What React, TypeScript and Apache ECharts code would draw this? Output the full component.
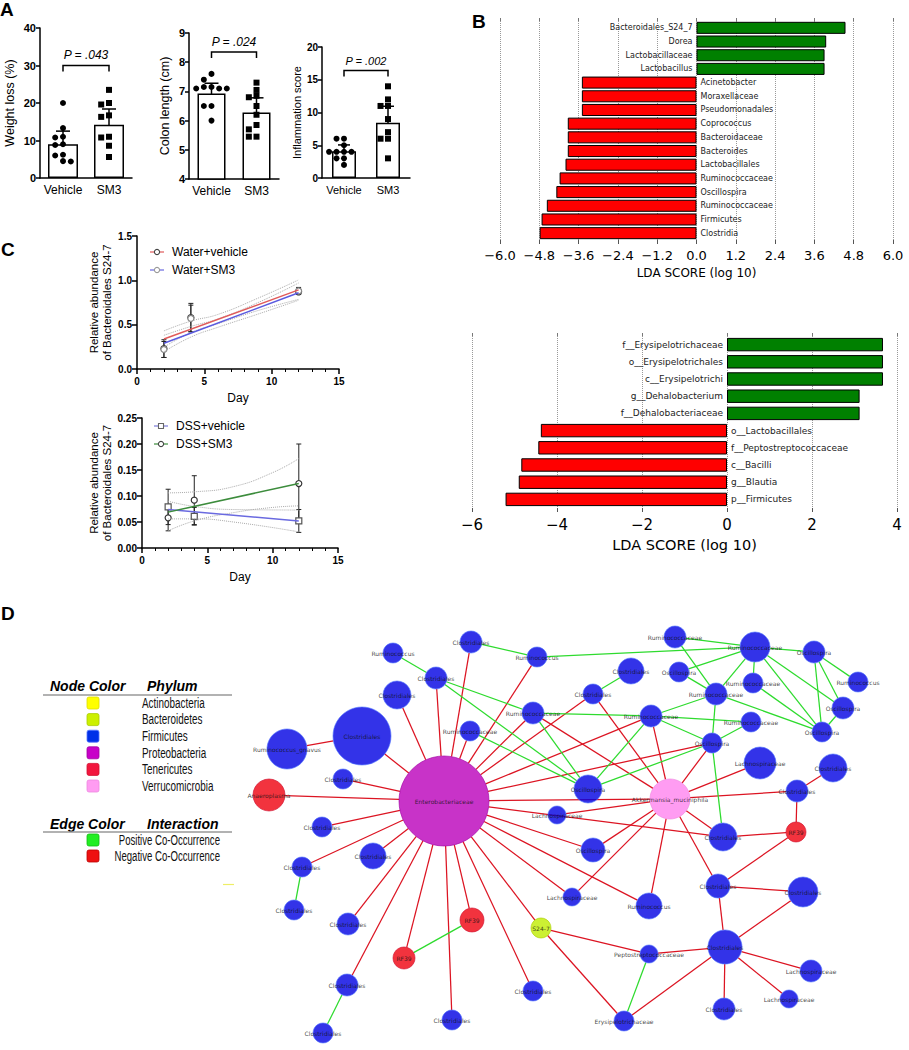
import React, { useEffect, useRef } from "react";
import * as echarts from "echarts";

const FONT = "'Liberation Sans', Arial, Helvetica, sans-serif";
const MPL = "'DejaVu Sans', sans-serif";

// ---------------- Panel A data ----------------
const groups = ["Vehicle", "SM3"];
const yTitlesA = ["Weight loss (%)", "Colon length (cm)", "Inflammation score"];
const weightLossVehicle = [20, 13.3, 11, 10.8, 9, 8.8, 6.2, 6, 4.5, 4.4];
const weightLossSM3 = [23.5, 20, 19.6, 16.7, 16.3, 11, 10.8, 8.6, 5.6];
const weightLossMean = [9, 14.2];
const weightLossSD = [3.5, 4.2];
const colonVehicle = [7.6, 7.4, 7.15, 7.15, 7.1, 7.1, 7.1, 6.5, 6.5, 6.0];
const colonSM3 = [7.3, 7.05, 6.85, 6.8, 6.5, 6.2, 5.85, 5.7, 5.45, 5.45];
const colonMean = [6.93, 6.28];
const colonSD = [0.35, 0.5];
const inflVehicle = [6, 6, 5, 4, 4, 4, 4, 3, 3, 2];
const inflSM3 = [14, 12, 11, 11, 9, 7, 6, 6, 3];
const inflMean = [4.1, 8.45];
const inflSD = [0.95, 2.5];
const pLabels = ["P = .043", "P = .024", "P = .002"];
const bracketLevels = [30, 8.35, 16.4];

// ---------------- Panel B data ----------------
const ldaTopNames = ["Bacteroidales_S24_7", "Dorea", "Lactobacillaceae", "Lactobacillus", "Acinetobacter", "Moraxellaceae", "Pseudomonadales", "Coprococcus", "Bacteroidaceae", "Bacteroides", "Lactobacillales", "Ruminococcaceae", "Oscillospira", "Ruminococcaceae", "Firmicutes", "Clostridia"];
const ldaTopScores = [4.55, 3.96, 3.91, 3.91, -3.5, -3.5, -3.5, -3.93, -3.93, -3.93, -4.0, -4.18, -4.28, -4.57, -4.73, -4.79];
const ldaBottomNames = ["f__Erysipelotrichaceae", "o__Erysipelotrichales", "c__Erysipelotrichi", "g__Dehalobacterium", "f__Dehalobacteriaceae", "o__Lactobacillales", "f__Peptostreptococcaceae", "c__Bacilli", "g__Blautia", "p__Firmicutes"];
const ldaBottomScores = [3.67, 3.67, 3.67, 3.12, 3.12, -4.38, -4.44, -4.84, -4.9, -5.21];
const ldaAxisTitle = "LDA SCORE (log 10)";

// ---------------- Panel C data ----------------
const cDays = [2, 4, 12];
const cYTitle = "Relative abundance\nof Bacteroidales S24-7";
const waterVehicleMean = [0.23, 0.58, 0.87];
const waterVehicleSD = [0.1, 0.16, 0.03];
const waterSM3Mean = [0.22, 0.57, 0.88];
const waterSM3SD = [0.09, 0.15, 0.04];
const waterVehicleFit = [[2, 0.338], [12, 0.892]];
const waterSM3Fit = [[2, 0.29], [12, 0.86]];
const waterVehicleBandUpper = [[2, 0.43], [4, 0.54], [6, 0.615], [9, 0.8], [12, 1.005]];
const waterVehicleBandLower = [[2, 0.245], [4, 0.41], [6, 0.51], [9, 0.66], [12, 0.785]];
const waterSM3BandUpper = [[2, 0.38], [4, 0.48], [6, 0.565], [9, 0.75], [12, 0.97]];
const waterSM3BandLower = [[2, 0.195], [4, 0.36], [6, 0.47], [9, 0.62], [12, 0.775]];
const dssVehicleMean = [0.079, 0.061, 0.052];
const dssVehicleSD = [0.034, 0.017, 0.022];
const dssSM3Mean = [0.058, 0.092, 0.124];
const dssSM3SD = [0.025, 0.047, 0.076];
const dssVehicleFit = [[2, 0.074], [12, 0.052]];
const dssSM3Fit = [[2, 0.069], [12, 0.124]];
const dssVehicleBandUpper = [[2, 0.09], [4, 0.08], [7, 0.074], [12, 0.073]];
const dssVehicleBandLower = [[2, 0.056], [4, 0.056], [7, 0.05], [12, 0.031]];
const dssSM3BandUpper = [[2, 0.106], [4, 0.108], [7, 0.118], [10, 0.145], [12, 0.172]];
const dssSM3BandLower = [[2, 0.033], [4, 0.052], [7, 0.068], [10, 0.078], [12, 0.081]];
const cLegendTop = ["Water+vehicle", "Water+SM3"];
const cLegendBottom = ["DSS+vehicle", "DSS+SM3"];

// ---------------- Panel D data ----------------
const phylumNames = ["Actinobacteria", "Bacteroidetes", "Firmicutes", "Proteobacteria", "Tenericutes", "Verrucomicrobia"];
const edgeTypeNames = ["Positive Co-Occurrence", "Negative Co-Occurrence"];
const nodeNames = ["Enterobacteriaceae", "Akkermansia_muciniphila", "Ruminococcus", "Clostridiales", "Ruminococcus", "Clostridiales", "Clostridiales", "Clostridiales", "Ruminococcus_gnavus", "Ruminococcaceae", "Ruminococcaceae", "Clostridiales", "Anaeroplasma", "Clostridiales", "Clostridiales", "Clostridiales", "Clostridiales", "Clostridiales", "RF39", "RF39", "S24-7", "Lachnospiraceae", "Clostridiales", "Clostridiales", "Clostridiales", "Clostridiales", "Clostridiales", "RF39", "Oscillospira", "Ruminococcus", "Clostridiales", "Clostridiales", "Clostridiales", "Peptostreptococcaceae", "Lachnospiraceae", "Lachnospiraceae", "Clostridiales", "Erysipelotrichaceae", "Ruminococcaceae", "Ruminococcaceae", "Oscillospira", "Clostridiales", "Oscillospira", "Ruminococcus", "Ruminococcaceae", "Clostridiales", "Ruminococcaceae", "Oscillospira", "Ruminococcaceae", "Ruminococcaceae", "Oscillospira", "Oscillospira", "Lachnospiraceae", "Clostridiales", "Oscillospira", "Clostridiales", "Lachnospiraceae"];
const nodePhyla = [3, 5, 2, 2, 2, 2, 2, 2, 2, 2, 2, 2, 4, 2, 2, 2, 2, 2, 4, 4, 1, 2, 2, 2, 2, 2, 2, 4, 2, 2, 2, 2, 2, 2, 2, 2, 2, 2, 2, 2, 2, 2, 2, 2, 2, 2, 2, 2, 2, 2, 2, 2, 2, 2, 2, 2, 2];
const nodeWeight = [45, 20, 10, 11, 10, 11, 14, 29, 20, 11, 10, 10, 16, 10, 13, 10, 10, 11, 12, 11, 10, 9, 11, 10, 10, 10, 14, 10, 12, 13, 12, 15, 17, 9, 11, 9, 11, 10, 11, 15, 11, 13, 10, 10, 10, 10, 11, 11, 11, 10, 10, 10, 16, 14, 14, 11, 9];
const positiveEdges = [[2, 5], [3, 4], [4, 39], [5, 9], [5, 54], [10, 54], [9, 54], [9, 48], [48, 49], [48, 54], [48, 46], [48, 51], [51, 54], [51, 49], [51, 46], [51, 26], [45, 41], [46, 38], [46, 42], [46, 39], [46, 50], [42, 39], [38, 39], [39, 40], [39, 44], [39, 50], [39, 47], [44, 50], [40, 43], [40, 47], [40, 50], [47, 50], [15, 16], [22, 23], [18, 19], [33, 37]];
const negativeEdges = [[0, 3], [0, 4], [0, 5], [0, 6], [0, 7], [0, 9], [0, 10], [0, 11], [0, 12], [0, 13], [0, 14], [0, 15], [0, 17], [0, 18], [0, 19], [0, 20], [0, 21], [0, 22], [0, 24], [0, 25], [0, 26], [0, 28], [0, 29], [0, 45], [0, 48], [0, 51], [0, 1], [1, 45], [1, 9], [1, 48], [1, 51], [1, 52], [1, 55], [1, 56], [1, 28], [1, 21], [1, 29], [1, 26], [1, 30], [7, 8], [26, 27], [27, 55], [27, 30], [30, 31], [30, 32], [31, 32], [32, 33], [32, 34], [32, 35], [32, 36], [32, 37], [20, 33], [20, 37], [55, 53]];

// Network layout (drawing coordinates of the layout, not data values)
const layoutX = [444, 670, 393, 471, 537, 436, 397, 362, 287, 533, 470, 343, 269, 322, 373, 302, 294, 348, 472, 404, 541, 572, 347, 323, 452, 533, 723, 796, 593, 649, 718, 803, 725, 649, 811, 789, 724, 624, 675, 755, 814, 631, 679, 858, 753, 593, 716, 843, 651, 751, 822, 712, 760, 833, 588, 797, 557];
const layoutY = [801, 799, 653, 642, 657, 678, 695, 736, 749, 713, 731, 779, 795, 827, 856, 867, 910, 924, 920, 958, 928, 897, 985, 1033, 1020, 991, 837, 832, 850, 906, 886, 892, 947, 954, 971, 999, 1009, 1021, 637, 647, 652, 671, 672, 682, 683, 694, 694, 708, 716, 722, 732, 743, 763, 768, 789, 791, 815];

// ---------------- styles ----------------
const phylumColors = ["#ffff00", "#ccf000", "#0030e8", "#c800c8", "#f2163e", "#ff9cf2"];
const phylumBorders = ["#dddd00", "#aacc00", "#5577ff", "#a000a0", "#d01030", "#ee88e0"];
const edgeColors = ["#2edb2e", "#dc1422"];
const TOP_H = 590;
const NODE_ALPHA = 0.8;

// colour that, drawn at NODE_ALPHA over white, looks as close as possible to the target
function compensate(hex: string): string {
  const n = parseInt(hex.slice(1), 16);
  const ch = [(n >> 16) & 255, (n >> 8) & 255, n & 255].map((c) => {
    const v = Math.round((c - 255 * (1 - NODE_ALPHA)) / NODE_ALPHA);
    return Math.max(0, Math.min(255, v));
  });
  return "#" + ch.map((c) => c.toString(16).padStart(2, "0")).join("");
}

const aLayout = [
  { left: 40, top: 28, width: 92, height: 150, min: 0, max: 40, interval: 10, nameGap: 24, nameFs: 12.5, tickFs: 11, catFs: 12, barW: 30, cap: 7, pFs: 12, pGap: 5 },
  { left: 189, top: 33, width: 90, height: 146, min: 4, max: 9, interval: 1, nameGap: 18, nameFs: 12.5, tickFs: 11, catFs: 12, barW: 28, cap: 7, pFs: 12, pGap: 4 },
  { left: 322, top: 47, width: 88, height: 131, min: 0, max: 20, interval: 5, nameGap: 18, nameFs: 11, tickFs: 10, catFs: 11, barW: 24, cap: 6, pFs: 11, pGap: 4 },
];

function swarm(vals: number[], thr: number, d: number): number[] {
  const xs: number[] = [];
  vals.forEach((v, i) => {
    const cand = [0, -d, d, -2 * d, 2 * d, -3 * d, 3 * d];
    for (const c of cand) {
      if (!xs.some((x, j) => Math.abs(x - c) < 1e-9 && Math.abs(vals[j] - v) < thr)) {
        xs.push(c);
        return;
      }
    }
    xs.push(0);
  });
  return xs;
}

function errorBarRender(cap: number, width: number, color: string) {
  return (_p: any, api: any) => {
    const x = api.value(0), m = api.value(1), s = api.value(2);
    const hi = api.coord([x, m + s]);
    const lo = api.coord([x, m - s]);
    const style = { stroke: color, lineWidth: width, fill: "none" };
    return {
      type: "group",
      children: [
        { type: "line", shape: { x1: hi[0], y1: hi[1], x2: lo[0], y2: lo[1] }, style },
        { type: "line", shape: { x1: hi[0] - cap, y1: hi[1], x2: hi[0] + cap, y2: hi[1] }, style },
        { type: "line", shape: { x1: lo[0] - cap, y1: lo[1], x2: lo[0] + cap, y2: lo[1] }, style },
      ],
    };
  };
}

function bracketRender(text: string, fs: number, gap: number) {
  return (_p: any, api: any) => {
    const a = api.coord([api.value(0), api.value(2)]);
    const b = api.coord([api.value(1), api.value(2)]);
    const drop = 6;
    return {
      type: "group",
      children: [
        { type: "polyline", shape: { points: [[a[0], a[1] + drop], a, b, [b[0], b[1] + drop]] }, style: { stroke: "#000", lineWidth: 1.5, fill: "none" } },
        { type: "text", x: (a[0] + b[0]) / 2, y: a[1] - gap, style: { text, fontSize: fs, fontStyle: "italic", fontFamily: FONT, fill: "#000", align: "center", verticalAlign: "bottom" } },
      ],
    };
  };
}

// edge drawn from rim to rim of its two nodes
function edgeRender(color: string) {
  return (_p: any, api: any) => {
    const a = api.coord([api.value(0), api.value(1)]);
    const b = api.coord([api.value(2), api.value(3)]);
    const ra = api.value(4), rb = api.value(5);
    const dx = b[0] - a[0], dy = b[1] - a[1];
    const len = Math.sqrt(dx * dx + dy * dy) || 1;
    const ux = dx / len, uy = dy / len;
    return {
      type: "line",
      shape: { x1: a[0] + ux * ra, y1: a[1] + uy * ra, x2: b[0] - ux * rb, y2: b[1] - uy * rb },
      style: { stroke: color, lineWidth: 1.25 },
    };
  };
}

const fmtMinus = (v: number, d: number) => {
  const s = (Math.abs(v) < 1e-9 ? 0 : v).toFixed(d);
  return s.replace("-", "\u2212");
};

function buildTopOption() {
  const grid: any[] = [];
  const xAxis: any[] = [];
  const yAxis: any[] = [];
  const series: any[] = [];
  const elements: any[] = [];
  const blackLine = { color: "#000", width: 1.5 };

  // ---------- Panel A ----------
  const aSets = [
    { veh: weightLossVehicle, sm3: weightLossSM3, mean: weightLossMean, sd: weightLossSD },
    { veh: colonVehicle, sm3: colonSM3, mean: colonMean, sd: colonSD },
    { veh: inflVehicle, sm3: inflSM3, mean: inflMean, sd: inflSD },
  ];
  aSets.forEach((set, k) => {
    const L = aLayout[k];
    const gi = grid.length;
    grid.push({ left: L.left, top: L.top, width: L.width, height: L.height, outerBoundsMode: "none" });
    const xCat = xAxis.length;
    xAxis.push({
      type: "category", gridIndex: gi, data: groups,
      axisLine: { onZero: false, lineStyle: blackLine },
      axisTick: { alignWithLabel: true, length: 4, lineStyle: blackLine },
      axisLabel: { color: "#000", fontSize: L.catFs, fontFamily: FONT, margin: 6, interval: 0 },
    });
    const xVal = xAxis.length;
    xAxis.push({ type: "value", gridIndex: gi, min: -0.5, max: 1.5, show: false, axisLine: { onZero: false } });
    const yi = yAxis.length;
    yAxis.push({
      type: "value", gridIndex: gi, min: L.min, max: L.max, interval: L.interval,
      name: yTitlesA[k], nameLocation: "middle", nameGap: L.nameGap,
      nameTextStyle: { fontSize: L.nameFs, fontFamily: FONT, color: "#000" },
      axisLine: { show: true, onZero: false, lineStyle: blackLine },
      axisTick: { show: true, length: 4, lineStyle: blackLine },
      axisLabel: { color: "#000", fontSize: L.tickFs, fontWeight: "bold", fontFamily: FONT, margin: 4 },
      splitLine: { show: false },
    });
    series.push({ type: "bar", xAxisIndex: xCat, yAxisIndex: yi, data: set.mean, barWidth: L.barW, itemStyle: { color: "#fff", borderColor: "#000", borderWidth: 1.5 }, silent: true });
    series.push({ type: "custom", xAxisIndex: xVal, yAxisIndex: yi, renderItem: errorBarRender(L.cap, 1.5, "#000"), data: set.mean.map((m, i) => [i, m, set.sd[i]]), silent: true });
    const thr = (L.max - L.min) * 0.04;
    const o0 = swarm(set.veh, thr, 0.17);
    const o1 = swarm(set.sm3, thr, 0.17);
    series.push({ type: "scatter", xAxisIndex: xVal, yAxisIndex: yi, symbol: "circle", symbolSize: 6, itemStyle: { color: "#000", opacity: 1 }, data: set.veh.map((v, i) => [o0[i], v]), silent: true });
    series.push({ type: "scatter", xAxisIndex: xVal, yAxisIndex: yi, symbol: "rect", symbolSize: 6, itemStyle: { color: "#000", opacity: 1 }, data: set.sm3.map((v, i) => [1 + o1[i], v]), silent: true });
    series.push({ type: "custom", xAxisIndex: xVal, yAxisIndex: yi, renderItem: bracketRender(pLabels[k], L.pFs, L.pGap), data: [[0, 1, bracketLevels[k]]], silent: true });
  });

  // ---------- Panel B ----------
  const bSets = [
    { names: ldaTopNames, scores: ldaTopScores, left: 500, top: 21, width: 393, height: 219, min: -6, max: 6, interval: 1.2, dec: 1, tickFs: 13, nameFs: 12, nameGap: 27, labelFs: 8, gap: "12%", margin: 9 },
    { names: ldaBottomNames, scores: ldaBottomScores, left: 472, top: 336, width: 425, height: 172, min: -6, max: 4, interval: 2, dec: 0, tickFs: 15, nameFs: 14.5, nameGap: 29, labelFs: 9, gap: "22%", margin: 9 },
  ];
  bSets.forEach((B) => {
    const gi = grid.length;
    grid.push({ left: B.left, top: B.top, width: B.width, height: B.height, outerBoundsMode: "none" });
    const xb = xAxis.length;
    xAxis.push({
      type: "value", gridIndex: gi, min: B.min, max: B.max, interval: B.interval, position: "bottom",
      axisLine: { show: false, onZero: false },
      axisTick: { show: true, length: 4, lineStyle: { color: "#555", width: 1 } },
      axisLabel: { formatter: (v: number) => fmtMinus(v, B.dec), fontSize: B.tickFs, fontFamily: MPL, color: "#000", margin: B.margin },
      splitLine: { show: true, lineStyle: { type: "dotted", color: "#999", width: 1 } },
      name: ldaAxisTitle, nameLocation: "middle", nameGap: B.nameGap,
      nameTextStyle: { fontSize: B.nameFs, fontFamily: MPL, color: "#000" },
    });
    xAxis.push({
      type: "value", gridIndex: gi, min: B.min, max: B.max, interval: B.interval, position: "top",
      axisLine: { show: false, onZero: false },
      axisTick: { show: true, length: 3, lineStyle: { color: "#777", width: 1 } },
      axisLabel: { show: false }, splitLine: { show: false },
    });
    const yi = yAxis.length;
    yAxis.push({ type: "category", gridIndex: gi, inverse: true, data: B.names.map((_, i) => String(i)), show: false, axisLine: { onZero: false } });
    series.push({
      type: "bar", xAxisIndex: xb, yAxisIndex: yi, barCategoryGap: B.gap, silent: true,
      data: B.scores.map((s) => ({ value: s, itemStyle: { color: s > 0 ? "#008000" : "#ff0000" }, label: { position: s > 0 ? "left" : "right" } })),
      itemStyle: { borderColor: "#000", borderWidth: 1 },
      label: { show: true, formatter: (p: any) => B.names[p.dataIndex], fontSize: B.labelFs, fontFamily: MPL, color: "#222", distance: 4 },
    });
  });

  // ---------- Panel C ----------
  const cSets = [
    {
      left: 137, top: 236, width: 202, height: 133, max: 1.5, interval: 0.5, dec: 1, nameGap: 24,
      bands: [waterVehicleBandUpper, waterVehicleBandLower, waterSM3BandUpper, waterSM3BandLower],
      fits: [{ d: waterVehicleFit, c: "#e05a5a" }, { d: waterSM3Fit, c: "#5a5ae0" }],
      pts: [
        { m: waterVehicleMean, s: waterVehicleSD, sym: "circle", bc: "#333" },
        { m: waterSM3Mean, s: waterSM3SD, sym: "circle", bc: "#888" },
      ],
    },
    {
      left: 142, top: 418, width: 196, height: 130, max: 0.25, interval: 0.05, dec: 2, nameGap: 28,
      bands: [dssVehicleBandUpper, dssVehicleBandLower, dssSM3BandUpper, dssSM3BandLower],
      fits: [{ d: dssVehicleFit, c: "#6a6ae0" }, { d: dssSM3Fit, c: "#3c8c3c" }],
      pts: [
        { m: dssVehicleMean, s: dssVehicleSD, sym: "rect", bc: "#555" },
        { m: dssSM3Mean, s: dssSM3SD, sym: "circle", bc: "#333" },
      ],
    },
  ];
  cSets.forEach((C) => {
    const gi = grid.length;
    grid.push({ left: C.left, top: C.top, width: C.width, height: C.height, outerBoundsMode: "none" });
    const xi = xAxis.length;
    xAxis.push({
      type: "value", gridIndex: gi, min: 0, max: 15, interval: 5,
      axisLine: { onZero: false, lineStyle: blackLine },
      axisTick: { show: true, length: 5, lineStyle: blackLine },
      minorTick: { show: true, splitNumber: 5, length: 3, lineStyle: { color: "#000", width: 1 } },
      axisLabel: { fontWeight: "bold", fontSize: 10, color: "#000", margin: 7, fontFamily: FONT },
      splitLine: { show: false },
      name: "Day", nameLocation: "middle", nameGap: 23,
      nameTextStyle: { fontSize: 12, color: "#000", fontFamily: FONT },
    });
    const yi = yAxis.length;
    yAxis.push({
      type: "value", gridIndex: gi, min: 0, max: C.max, interval: C.interval,
      axisLine: { show: true, onZero: false, lineStyle: blackLine },
      axisTick: { show: true, length: 5, lineStyle: blackLine },
      axisLabel: { formatter: (v: number) => v.toFixed(C.dec), fontWeight: "bold", fontSize: 10, color: "#000", margin: 5, fontFamily: FONT },
      splitLine: { show: false },
      name: cYTitle, nameLocation: "middle", nameGap: C.nameGap,
      nameTextStyle: { fontSize: 11.5, lineHeight: 13, color: "#000", fontFamily: FONT },
    });
    C.bands.forEach((b) => {
      series.push({ type: "line", xAxisIndex: xi, yAxisIndex: yi, data: b, smooth: true, symbol: "none", silent: true, lineStyle: { type: "dotted", color: "#aaa", width: 1 } });
    });
    C.fits.forEach((f) => {
      series.push({ type: "line", xAxisIndex: xi, yAxisIndex: yi, data: f.d, symbol: "none", silent: true, lineStyle: { color: f.c, width: 1.5 } });
    });
    C.pts.forEach((p) => {
      series.push({ type: "custom", xAxisIndex: xi, yAxisIndex: yi, renderItem: errorBarRender(2.5, 1, "#222"), data: cDays.map((d, i) => [d, p.m[i], p.s[i]]), silent: true });
    });
    C.pts.forEach((p) => {
      series.push({ type: "scatter", xAxisIndex: xi, yAxisIndex: yi, symbol: p.sym, symbolSize: 6, silent: true, itemStyle: { color: "#fff", borderColor: p.bc, borderWidth: 1.2, opacity: 1 }, data: cDays.map((d, i) => [d, p.m[i]]) });
    });
  });

  const cLeg = [
    { x: 150, y: 252, text: cLegendTop[0], lc: "#e05a5a", sym: "circle", sc: "#444" },
    { x: 150, y: 270, text: cLegendTop[1], lc: "#6a6ae0", sym: "circle", sc: "#999" },
    { x: 154, y: 426, text: cLegendBottom[0], lc: "#7a7ad8", sym: "rect", sc: "#666" },
    { x: 154, y: 444, text: cLegendBottom[1], lc: "#3c8c3c", sym: "circle", sc: "#444" },
  ];
  cLeg.forEach((l) => {
    elements.push({ type: "line", shape: { x1: l.x, y1: l.y, x2: l.x + 14, y2: l.y }, style: { stroke: l.lc, lineWidth: 1.2 } });
    if (l.sym === "circle") elements.push({ type: "circle", shape: { cx: l.x + 7, cy: l.y, r: 2.6 }, style: { fill: "#fff", stroke: l.sc, lineWidth: 1.1 } });
    else elements.push({ type: "rect", shape: { x: l.x + 4.5, y: l.y - 2.5, width: 5, height: 5 }, style: { fill: "#fff", stroke: l.sc, lineWidth: 1.1 } });
    elements.push({ type: "text", x: l.x + 22, y: l.y, style: { text: l.text, fontSize: 12, fontFamily: FONT, fill: "#000", verticalAlign: "middle" } });
  });

  const letters = [
    { t: "A", x: 0, y: 0 },
    { t: "B", x: 472, y: 12 },
    { t: "C", x: 1, y: 240 },
  ];
  letters.forEach((l) => {
    elements.push({ type: "text", x: l.x, y: l.y, style: { text: l.t, fontSize: 19, fontWeight: "bold", fontFamily: FONT, fill: "#000", verticalAlign: "top" } });
  });

  return { animation: false, backgroundColor: "#fff", grid, xAxis, yAxis, series, graphic: { elements } };
}

function buildNetworkOption() {
  const elements: any[] = [];
  const oy = TOP_H;
  const edgeData = (list: number[][]) => list.map(([s, t]) => [layoutX[s], layoutY[s], layoutX[t], layoutY[t], nodeWeight[s], nodeWeight[t]]);
  const series: any[] = [
    { type: "custom", silent: true, z: 1, encode: { x: [0, 2], y: [1, 3] }, renderItem: edgeRender(edgeColors[1]), data: edgeData(negativeEdges) },
    { type: "custom", silent: true, z: 1, encode: { x: [0, 2], y: [1, 3] }, renderItem: edgeRender(edgeColors[0]), data: edgeData(positiveEdges) },
    {
      type: "scatter", silent: true, z: 3,
      data: nodeNames.map((_n, i) => ({
        value: [layoutX[i], layoutY[i]], symbolSize: nodeWeight[i] * 2,
        itemStyle: { color: compensate(phylumColors[nodePhyla[i]]), borderColor: phylumBorders[nodePhyla[i]], borderWidth: 0.8 },
      })),
      label: { show: true, position: "inside", formatter: (p: any) => nodeNames[p.dataIndex], fontSize: 6, color: "#111", fontFamily: MPL },
    },
  ];

  const headStyle = { fontSize: 14, fontWeight: "bold", fontStyle: "italic", fontFamily: FONT, fill: "#000", verticalAlign: "middle" };
  elements.push({ type: "text", x: 50, y: 686 - oy, style: { ...headStyle, text: "Node Color" } });
  elements.push({ type: "text", x: 147, y: 686 - oy, style: { ...headStyle, text: "Phylum" } });
  elements.push({ type: "line", shape: { x1: 43, y1: 695 - oy, x2: 232, y2: 695 - oy }, style: { stroke: "#999", lineWidth: 1.5 } });
  phylumNames.forEach((p, i) => {
    const y = 703 + i * 16.6 - oy;
    elements.push({ type: "rect", shape: { x: 87, y: y - 6, width: 12, height: 12, r: 2 }, style: { fill: phylumColors[i], stroke: phylumBorders[i], lineWidth: 0.8 } });
    elements.push({ type: "text", x: 142, y, scaleX: 0.66, originX: 0, originY: 0, style: { text: p, fontSize: 15, fontFamily: FONT, fill: "#111", verticalAlign: "middle" } });
  });
  elements.push({ type: "text", x: 50, y: 824 - oy, style: { ...headStyle, text: "Edge Color" } });
  elements.push({ type: "text", x: 147, y: 824 - oy, style: { ...headStyle, text: "Interaction" } });
  elements.push({ type: "line", shape: { x1: 43, y1: 832 - oy, x2: 232, y2: 832 - oy }, style: { stroke: "#999", lineWidth: 1.5 } });
  edgeTypeNames.forEach((t, i) => {
    const y = 840 + i * 16 - oy;
    elements.push({ type: "rect", shape: { x: 87, y: y - 6, width: 12, height: 12, r: 2 }, style: { fill: i === 0 ? "#22ee22" : "#ee1111", stroke: i === 0 ? "#11bb11" : "#bb0000", lineWidth: 0.8 } });
    elements.push({ type: "text", x: 220, y, scaleX: 0.64, originX: 0, originY: 0, style: { text: t, fontSize: 15, fontFamily: FONT, fill: "#111", align: "right", verticalAlign: "middle" } });
  });
  elements.push({ type: "line", shape: { x1: 223, y1: 884.5 - oy, x2: 234, y2: 884.5 - oy }, style: { stroke: "#eeee66", lineWidth: 1.2 } });
  elements.push({ type: "text", x: 1, y: 604 - oy, style: { text: "D", fontSize: 19, fontWeight: "bold", fontFamily: FONT, fill: "#000", verticalAlign: "top" } });

  return {
    animation: false,
    backgroundColor: "#fff",
    grid: { left: 0, top: 0, width: 909, height: 1050 - oy, outerBoundsMode: "none" },
    xAxis: { type: "value", min: 0, max: 909, show: false },
    yAxis: { type: "value", min: oy, max: 1050, inverse: true, show: false },
    series,
    graphic: { elements },
  };
}

export default function App() {
  const topRef = useRef<HTMLDivElement>(null);
  const netRef = useRef<HTMLDivElement>(null);
  useEffect(() => {
    document.body.style.margin = "0";
    const top = echarts.init(topRef.current as HTMLDivElement, null, { renderer: "svg" });
    top.setOption(buildTopOption() as any);
    const net = echarts.init(netRef.current as HTMLDivElement, null, { renderer: "svg" });
    net.setOption(buildNetworkOption() as any);
    return () => {
      top.dispose();
      net.dispose();
    };
  }, []);
  return (
    <div style={{ width: 909, height: 1050, background: "#fff" }}>
      <div ref={topRef} style={{ width: 909, height: TOP_H }} />
      <div ref={netRef} style={{ width: 909, height: 1050 - TOP_H }} />
    </div>
  );
}
